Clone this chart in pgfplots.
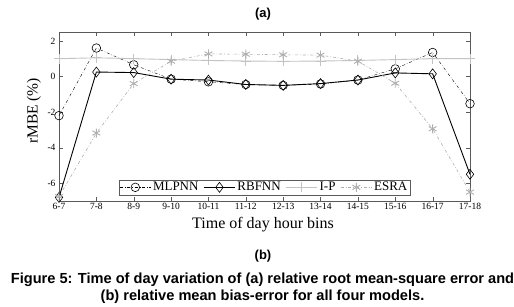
\documentclass[border=0pt]{standalone}
\usepackage{fontspec}
\setmainfont{Liberation Serif}
\newfontfamily\arial{Liberation Sans}
\usepackage{pgfplots}
\pgfplotsset{compat=1.18}
\definecolor{ipgray}{RGB}{195,195,195}
\definecolor{esgray}{RGB}{175,175,175}
\definecolor{axgray}{RGB}{90,90,90}
\begin{document}
\begin{tikzpicture}[x=1pt,y=1pt]
\useasboundingbox (0,0) rectangle (514,-306);
\begin{axis}[at={(59pt,-201pt)}, anchor=south west, scale only axis,
  width=411pt, height=169pt,
  xmin=0, xmax=11, ymin=-7, ymax=2.5,
  xtick={0,...,11},
  xticklabels={6-7,7-8,8-9,9-10,10-11,11-12,12-13,13-14,14-15,15-16,16-17,17-18},
  ytick={-6,-4,-2,0,2}, yticklabels={-6,-4,-2,0,2},
  tick label style={font=\fontsize{9.5}{10}\selectfont},
  xticklabel style={yshift=1pt},
  axis line style={axgray}, tick style={axgray},
  major tick length=4pt,
  clip=false,
  legend style={at={(0.5,0.035)}, anchor=south, draw=axgray, font=\fontsize{13}{14}\selectfont, inner sep=0.5pt},
  legend columns=4,
  /tikz/every even column/.append style={column sep=3pt},
  legend image code/.code={\draw[mark repeat=2,mark phase=2,#1] plot coordinates {(0pt,0pt) (15.5pt,0pt) (31pt,0pt)};},
]
\addplot[black, thin, dash dot, mark=o, mark size=4.3pt, mark options={solid, line width=0.6pt}] coordinates {
(0,-2.2) (1,1.6) (2,0.66) (3,-0.15) (4,-0.3) (5,-0.45) (6,-0.5) (7,-0.42) (8,-0.2) (9,0.43) (10,1.35) (11,-1.53)};
\addlegendentry{MLPNN}
\addplot[black, line width=0.9pt, mark=diamond, mark size=5pt, mark options={solid, line width=0.6pt, fill=white}] coordinates {
(0,-6.8) (1,0.25) (2,0.22) (3,-0.15) (4,-0.2) (5,-0.45) (6,-0.5) (7,-0.4) (8,-0.2) (9,0.2) (10,0.15) (11,-5.5)};
\addlegendentry{RBFNN}
\addplot[ipgray, line width=0.9pt, mark=+, mark size=5pt, mark options={solid}] coordinates {
(0,1.0) (1,1.05) (2,1.0) (3,0.95) (4,0.9) (5,0.87) (6,0.85) (7,0.87) (8,0.9) (9,0.95) (10,1.0) (11,1.0)};
\addlegendentry{I-P}
\addplot[esgray, line width=0.6pt, dash dot, mark=asterisk, mark size=4.5pt, mark options={solid, line width=0.9pt}] coordinates {
(0,-6.75) (1,-3.18) (2,-0.4) (3,0.86) (4,1.27) (5,1.25) (6,1.22) (7,1.2) (8,0.86) (9,-0.38) (10,-2.94) (11,-6.5)};
\addlegendentry{ESRA}
\end{axis}
\node[font=\arial\bfseries\fontsize{13}{15}\selectfont] at (263,-14) {(a)};
\node[font=\fontsize{16}{18}\selectfont] at (263,-225) {Time of day hour bins};
\node[font=\fontsize{15.5}{17}\selectfont, rotate=90] at (34,-111) {rMBE (\%)};
\node[font=\arial\bfseries\fontsize{13}{15}\selectfont] at (263,-256) {(b)};
\node[font=\arial\bfseries\fontsize{14.6}{17}\selectfont, align=center, inner sep=0pt] at (262.5,-288.5) {Figure 5: Time of day variation of (a) relative root mean-square error and\\(b) relative mean bias-error for all four models.};
\end{tikzpicture}
\end{document}
